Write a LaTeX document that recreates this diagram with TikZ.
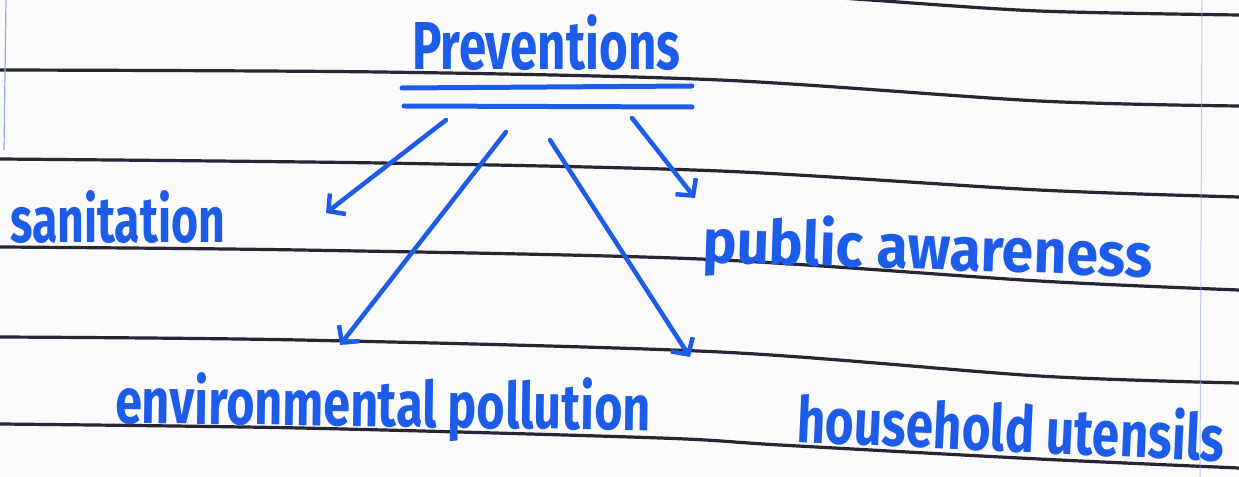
\documentclass[tikz,border=0pt]{standalone}
\usepackage{fontspec}
\setmainfont{Fira Sans}
\usetikzlibrary{arrows.meta}
\definecolor{ink}{RGB}{28,92,232}
\definecolor{rule}{RGB}{38,38,55}
\definecolor{paper}{RGB}{250,250,250}
\definecolor{margin}{RGB}{150,170,230}
\tikzset{
  word/.style={inner sep=0pt, anchor=base west, text=ink, font=\bfseries},
  ruling/.style={draw=rule, line width=3.2bp},
  under/.style={draw=ink, line width=5bp, line cap=round},
  link/.style={draw=ink, line width=4.5bp, line cap=round, line join=round,
    -{Straight Barb[length=12bp, width=26bp, line width=4.5bp]}}
}
\begin{document}
\begin{tikzpicture}[x=1bp,y=-1bp]
\useasboundingbox (0,0) rectangle (1239,477);
\fill[paper] (0,0) rectangle (1239,477);
\begin{scope}
\clip (0,0) rectangle (1239,477);
% ruled paper (the page is slightly bent)
\path[ruling] plot[smooth] coordinates {(700,-12) (870,0) (1039,11) (1239,15)};
\path[ruling] plot[smooth] coordinates {(0,70) (380,72) (720,80) (1039,101) (1239,106)};
\path[ruling] plot[smooth] coordinates {(0,159) (380,163) (720,171) (1039,190) (1239,197)};
\path[ruling] plot[smooth] coordinates {(0,247) (300,250) (700,259) (1039,281) (1239,290)};
\path[ruling] plot[smooth] coordinates {(0,337) (300,340) (720,352) (1039,376) (1239,383)};
\path[ruling] plot[smooth] coordinates {(0,424) (300,428) (660,438) (780,445) (1039,459) (1239,468)};
% margin lines
\draw[margin, line width=1.2bp] (6,0) -- (4,150);
\draw[margin, line width=1bp, opacity=0.6] (1202,0) -- (1200,477);
\end{scope}

% title
\node[word] (title) at (412,70) {\resizebox{268bp}{55bp}{Preventions}};
\path[under] (402,88) -- (692,86);
\path[under] (404,106) -- (692,107);

% items
\node[word] (san) at (10,243) {\resizebox{215bp}{52bp}{sanitation}};
\node[word, rotate=-1.9] (pub) at (702,262) {\resizebox{450bp}{50bp}{public awareness}};
\node[word, rotate=-0.8] (env) at (115,423) {\resizebox{535bp}{52bp}{environmental pollution}};
\node[word, rotate=-2.6] (hou) at (796,442) {\resizebox{428bp}{52bp}{household utensils}};

% arrows
\coordinate (s1) at (446,120);
\coordinate (e1) at (326,213);
\coordinate (s2) at (506,132);
\coordinate (e2) at (340,345);
\coordinate (s3) at (550,140);
\coordinate (e3) at (690,357);
\coordinate (s4) at (632,118);
\coordinate (e4) at (695,198);
\path[link] (s1) -- (e1);
\path[link] (s2) -- (e2);
\path[link] (s3) -- (e3);
\path[link] (s4) -- (e4);
\end{tikzpicture}
\end{document}
